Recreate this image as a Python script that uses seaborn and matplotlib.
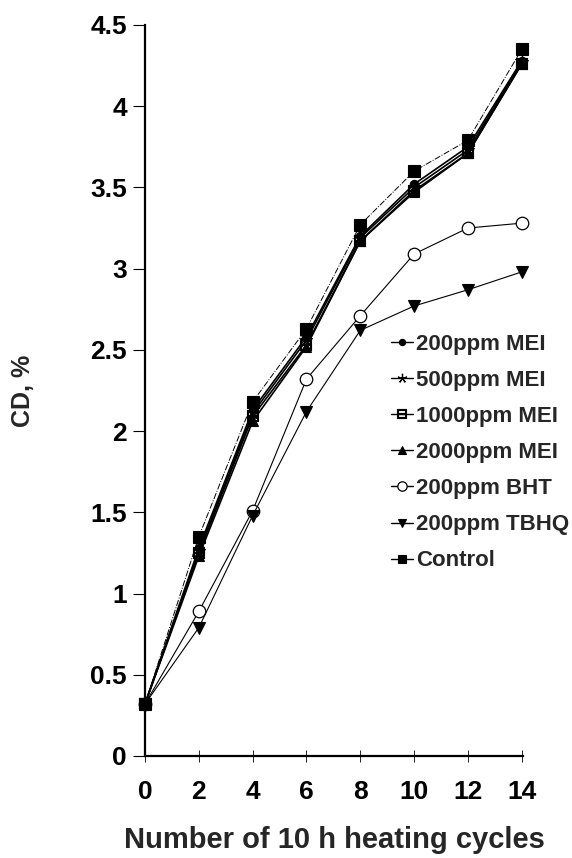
import matplotlib
matplotlib.use("Agg")
import matplotlib.pyplot as plt
import seaborn as sns
import pandas as pd

cycles = [0, 2, 4, 6, 8, 10, 12, 14]
mei200 = [0.32, 1.28, 2.13, 2.58, 3.20, 3.52, 3.75, 4.28]
mei500 = [0.32, 1.26, 2.11, 2.56, 3.19, 3.50, 3.73, 4.27]
mei1000 = [0.32, 1.25, 2.09, 2.53, 3.17, 3.48, 3.71, 4.26]
mei2000 = [0.32, 1.23, 2.06, 2.52, 3.17, 3.47, 3.71, 4.26]
bht200 = [0.32, 0.89, 1.51, 2.32, 2.71, 3.09, 3.25, 3.28]
tbhq200 = [0.32, 0.79, 1.48, 2.12, 2.62, 2.77, 2.87, 2.98]
control = [0.32, 1.35, 2.18, 2.63, 3.27, 3.60, 3.79, 4.35]

series_names = ["200ppm MEI", "500ppm MEI", "1000ppm MEI", "2000ppm MEI",
                "200ppm BHT", "200ppm TBHQ", "Control"]
series_values = [mei200, mei500, mei1000, mei2000, bht200, tbhq200, control]

yticks = [0, 0.5, 1, 1.5, 2, 2.5, 3, 3.5, 4, 4.5]
ytick_labels = ["0", "0.5", "1", "1.5", "2", "2.5", "3", "3.5", "4", "4.5"]
xticks = [0, 2, 4, 6, 8, 10, 12, 14]

sns.set_theme(style="ticks")
plt.rcParams['font.family'] = ['Liberation Sans', 'DejaVu Sans']
plt.rcParams['font.weight'] = 'bold'

fig = plt.figure(figsize=(5.72, 8.58), dpi=100)
ax = fig.add_axes([0.2535, 0.1189, 0.661, 0.852])

styles = {
    "200ppm MEI": dict(marker='o', ms=6, mfc='black', ls='-', lw=1.2),
    "500ppm MEI": dict(marker=(5, 2, 0), ms=9, mfc='black', ls='-', lw=1.2, mew=0.9),
    "1000ppm MEI": dict(marker='$\u229f$', ms=9, mfc='black', ls='-', lw=1.2, mew=0.1),
    "2000ppm MEI": dict(marker='^', ms=7, mfc='black', ls='-', lw=1.2),
    "200ppm BHT": dict(marker='o', ms=9, mfc='white', ls='-', lw=0.8, mew=0.9),
    "200ppm TBHQ": dict(marker='v', ms=8, mfc='black', ls='-', lw=0.8),
    "Control": dict(marker='s', ms=8, mfc='black', ls='-.', lw=0.7),
}

for name, vals in zip(series_names, series_values):
    st = styles[name]
    df = pd.DataFrame({"x": cycles, "y": vals})
    sns.lineplot(data=df, x="x", y="y", ax=ax, color='black', label=name,
                 marker=st['marker'], markersize=st['ms'],
                 markerfacecolor=st['mfc'], markeredgecolor='black',
                 markeredgewidth=st.get('mew', 0.8),
                 linestyle=st['ls'], linewidth=st['lw'], clip_on=False)

ax.set_xlim(0, 14.05)
ax.set_ylim(0, 4.5)
ax.set_xticks(xticks)
ax.set_xticklabels([str(v) for v in xticks])
ax.set_yticks(yticks)
ax.set_yticklabels(ytick_labels)
ax.tick_params(axis='x', direction='inout', length=8, width=0.6, pad=13,
               labelsize=19, colors='black')
ax.tick_params(axis='y', direction='out', length=9, width=0.8, pad=4,
               labelsize=19, colors='black')
for lab in ax.get_xticklabels() + ax.get_yticklabels():
    lab.set_fontweight('bold')

sns.despine(ax=ax)
ax.spines['left'].set_linewidth(1.6)
ax.spines['bottom'].set_linewidth(1.6)
ax.spines['left'].set_color('black')
ax.spines['bottom'].set_color('black')

ax.set_xlabel("Number of 10 h heating cycles", fontsize=21, fontweight='bold',
              labelpad=16)
ax.set_ylabel("CD, %", fontsize=18, fontweight='bold', labelpad=40)

handles, labels = ax.get_legend_handles_labels()
leg = ax.legend(handles, labels, loc='upper left', bbox_to_anchor=(0.683, 0.611),
                bbox_transform=fig.transFigure, frameon=False,
                handlelength=1.0, handletextpad=0.15, labelspacing=0.68,
                markerscale=0.75,
                borderpad=0, borderaxespad=0, prop={'weight': 'bold', 'size': 16})
for h in leg.get_lines():
    h.set_linestyle('-')
    h.set_linewidth(1.0)

fig.savefig("out.png", dpi=100)
